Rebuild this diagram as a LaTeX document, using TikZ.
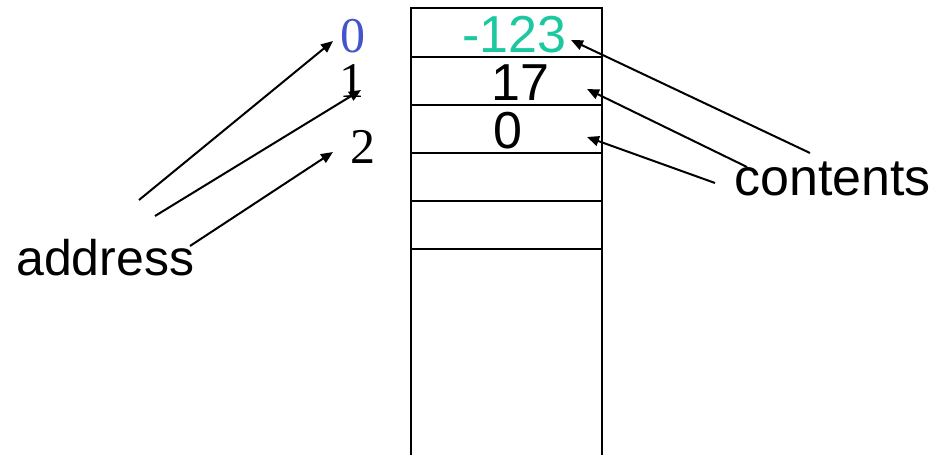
\documentclass[tikz,border=0pt]{standalone}
\usepackage{fontspec}
\setmainfont{Liberation Sans}
\newfontfamily\serifdigits{Liberation Serif}
\usetikzlibrary{arrows.meta}
\definecolor{tealtxt}{HTML}{1CC8A0}
\definecolor{bluetxt}{HTML}{4455CC}
\begin{document}
\begin{tikzpicture}[x=1pt,y=-1pt,
  lbl/.style={anchor=base west,inner sep=0pt,font=\fontsize{50}{60}\selectfont},
  val/.style={anchor=base west,inner sep=0pt,font=\fontsize{52}{60}\selectfont},
  adr/.style={anchor=base west,inner sep=0pt,font=\serifdigits\fontsize{50}{60}\selectfont},
  arr/.style={line width=2pt,-{Triangle[length=12pt,width=10pt]}},
  cell/.style={line width=2pt}]
\useasboundingbox (0,0) rectangle (938,455);
% memory column
\draw[cell] (411,455) -- (411,8) -- (602,8) -- (602,455);
\foreach \yy in {57,105,153,201,249} \draw[cell] (411,\yy) -- (602,\yy);
% values
\node[val,text=tealtxt] (v0) at (462,52) {-123};
\node[val] (v1) at (491,100) {17};
\node[val] (v2) at (493,148) {0};
% addresses
\node[adr,text=bluetxt] (a0) at (340,52) {0};
\node[adr] (a1) at (339.5,97) {1};
\node[adr] (a2) at (350.5,163) {2};
% labels
\node[lbl] (address) at (16,275) {address};
\node[lbl,font=\fontsize{52}{60}\selectfont] (contents) at (734,195) {contents};
% arrow endpoints
\coordinate (as0) at (139,200);
\coordinate (as1) at (155,216);
\coordinate (as2) at (190,246);
\coordinate (at0) at (333,41);
\coordinate (at1) at (361,90);
\coordinate (at2) at (333,152);
\coordinate (cs0) at (810,153);
\coordinate (cs1) at (747,167);
\coordinate (cs2) at (715,183);
\coordinate (ct0) at (571,40);
\coordinate (ct1) at (587,89);
\coordinate (ct2) at (587,137);
\draw[arr] (as0) -- (at0);
\draw[arr] (as1) -- (at1);
\draw[arr] (as2) -- (at2);
\draw[arr] (cs0) -- (ct0);
\draw[arr] (cs1) -- (ct1);
\draw[arr] (cs2) -- (ct2);
\end{tikzpicture}
\end{document}
